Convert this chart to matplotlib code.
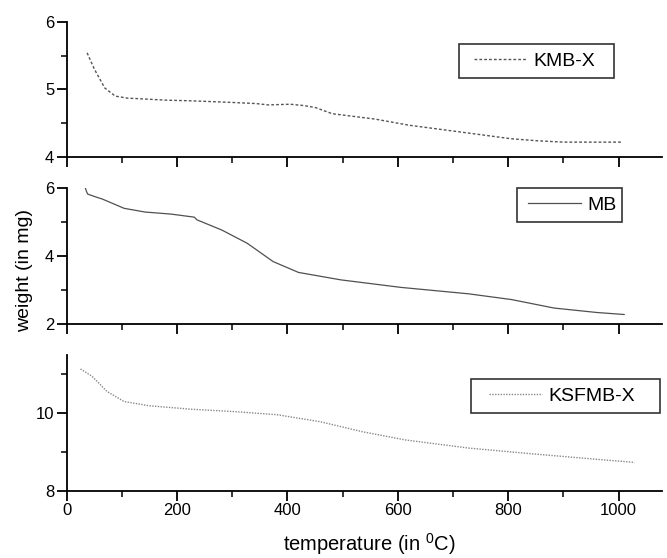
import matplotlib
matplotlib.use("Agg")
import matplotlib.pyplot as plt
from matplotlib.ticker import MultipleLocator
from matplotlib.patches import Rectangle

plt.rcParams['font.family'] = ['Liberation Sans', 'DejaVu Sans']
plt.rcParams['mathtext.fontset'] = 'custom'
plt.rcParams['mathtext.rm'] = 'Liberation Sans'

# KMB-X
kmb_t = [37, 50, 69, 88, 110, 135, 180, 227, 290, 343, 365, 405, 430, 451, 481, 520, 559, 620, 713, 805, 852, 900, 1006]
kmb_w = [5.54, 5.30, 5.02, 4.90, 4.87, 4.86, 4.84, 4.83, 4.81, 4.79, 4.77, 4.78, 4.76, 4.73, 4.64, 4.60, 4.56, 4.47, 4.37, 4.27, 4.24, 4.22, 4.22]
# MB
mb_t = [34, 36, 38, 50, 65, 104, 142, 189, 231, 233, 236, 281, 327, 374, 420, 497, 605, 728, 806, 883, 960, 1010]
mb_w = [6.00, 5.90, 5.83, 5.76, 5.68, 5.41, 5.30, 5.24, 5.15, 5.12, 5.07, 4.77, 4.38, 3.84, 3.52, 3.30, 3.08, 2.89, 2.72, 2.47, 2.34, 2.28]
# KSFMB-X
ks_t = [25, 46, 73, 104, 150, 227, 304, 381, 459, 536, 613, 728, 844, 960, 1029]
ks_w = [11.14, 10.95, 10.56, 10.30, 10.19, 10.10, 10.04, 9.96, 9.78, 9.52, 9.31, 9.10, 8.95, 8.81, 8.73]

fig = plt.figure(figsize=(6.67, 5.58), dpi=100)
W, H = 667.0, 558.0
left = 66.7 / W
width = 595 / W

def mkax(top, bottom):
    return fig.add_axes([left, 1 - bottom / H, width, (bottom - top) / H])

ax1 = mkax(21.7, 157)
ax2 = mkax(188.3, 324)
ax3 = mkax(355, 490.7)

ax1.plot(kmb_t, kmb_w, color='#555555', lw=1.0, ls=(0, (2, 1.5)), label='KMB-X')
ax2.plot(mb_t, mb_w, color='#505050', lw=0.9, ls='-', label='MB')
ax3.plot(ks_t, ks_w, color='#888888', lw=1.0, ls=(0, (1, 1)), label='KSFMB-X')

ax1.set_ylim(4, 6); ax1.set_yticks([4, 5, 6]); ax1.yaxis.set_minor_locator(MultipleLocator(0.5))
ax2.set_ylim(2, 6); ax2.set_yticks([2, 4, 6]); ax2.yaxis.set_minor_locator(MultipleLocator(1))
ax3.set_ylim(8, 11.5); ax3.set_yticks([8, 10]); ax3.yaxis.set_minor_locator(MultipleLocator(1))

for ax in (ax1, ax2, ax3):
    ax.set_xlim(0, 1078)
    ax.set_xticks([0, 200, 400, 600, 800, 1000])
    ax.xaxis.set_minor_locator(MultipleLocator(100))
    for s in ('top', 'right'):
        ax.spines[s].set_visible(False)
    for s in ('left', 'bottom'):
        ax.spines[s].set_linewidth(1.3)
    ax.tick_params(which='major', direction='out', length=7, width=1.3, labelsize=12, pad=2)
    ax.tick_params(which='minor', direction='out', length=4, width=1.1)
    ax.set_facecolor('white')

ax1.tick_params(axis='x', labelbottom=False)
ax2.tick_params(axis='x', labelbottom=False)

fig.text((281.7 + 456.7) / 2 / W, 1 - 551 / H, r'temperature (in $^{\mathregular{0}}$C)',
         fontsize=14.5, ha='center', va='baseline')
fig.text(25 / W, 1 - 270 / H, 'weight (in mg)', rotation=90, fontsize=14, ha='center', va='center')

def leg(ax, x0, y0, x1, y1, hx):
    l = ax.legend(loc='center left', bbox_to_anchor=(hx / W, 1 - (y0 + y1) / 2 / H),
                  bbox_transform=fig.transFigure, fontsize=14, frameon=False,
                  handlelength=2.73, handletextpad=0.3, borderpad=0, borderaxespad=0)
    fig.patches.append(Rectangle((x0 / W, 1 - y1 / H), (x1 - x0) / W, (y1 - y0) / H,
                                 transform=fig.transFigure, fill=False,
                                 edgecolor='#333333', linewidth=1.2, zorder=5))
    return l

leg(ax1, 459, 44, 614, 78, 474)
leg(ax2, 517, 188, 622, 222, 528)
leg(ax3, 471, 379, 660, 413, 489)

fig.savefig('out.png', dpi=100, facecolor='white')
